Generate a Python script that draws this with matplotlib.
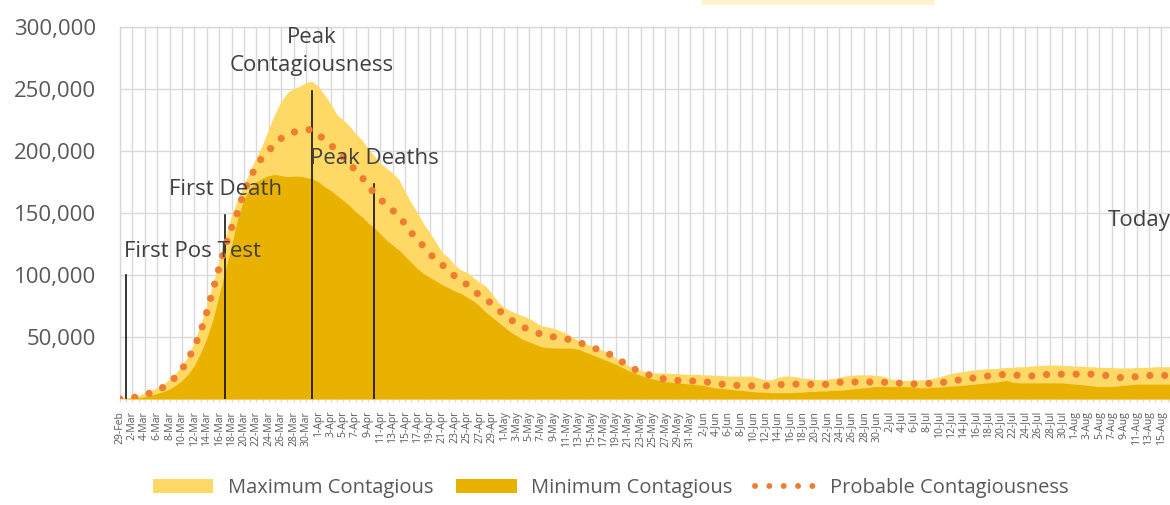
import numpy as np
import pandas as pd
import matplotlib
matplotlib.use("Agg")
import matplotlib.pyplot as plt
from matplotlib.patches import Patch, Rectangle
from matplotlib.lines import Line2D
from matplotlib.ticker import FuncFormatter

plt.rcParams['font.family'] = ['Open Sans', 'DejaVu Sans']

# ---- data (thousands of people) ----
max_contagious = [
    0.5, 1, 1.5, 3, 5, 7, 9, 12, 16, 21,
    27, 35, 46, 60, 76, 93, 112, 131, 148, 161,
    173, 184, 195, 205, 218, 230, 240, 247, 250, 252,
    255, 256, 252, 245, 238, 229, 225, 220, 214, 209,
    202, 196, 190, 186, 182, 177, 167, 158, 150, 141,
    134, 126, 118, 114, 108, 104, 102, 98, 94, 91,
    85, 78, 74, 71, 69, 67, 65, 62, 59, 58,
    57, 55, 53, 50, 47, 45, 43, 41, 39, 37,
    33, 30, 27, 25, 23, 22, 21, 21, 21, 20.5,
    20.5, 20, 20, 20, 19.5, 19.5, 19, 19, 18.5, 18.5,
    18.5, 18.5, 18.5, 17, 15.5, 15.5, 17, 18.5, 18.5, 18,
    17, 16.5, 16, 15.5, 16, 16.5, 17.5, 18.5, 19, 19.5,
    19.5, 19.5, 19, 18.5, 16.5, 15.5, 15, 15, 15.5, 15.5,
    15.5, 16.5, 17.5, 19, 20.5, 21.5, 22, 23, 23.5, 24,
    24.5, 24.5, 25, 25.5, 25.5, 26, 26, 26.5, 27, 27,
    27.5, 27.5, 27, 27, 26.5, 26.5, 26, 26, 25.5, 25.5,
    25.5, 25, 25, 25, 25.5, 25.5, 25.5, 26, 26, 26, 26,
]
min_contagious = [
    0, 0.3, 0.5, 1, 2, 3, 4.5, 6, 8, 11,
    15, 20, 27, 37, 49, 64, 84, 104, 124, 146,
    161, 170, 175, 178, 180, 181, 180, 179, 179.5, 179.5,
    178.5, 177.5, 175, 171, 168, 164, 160, 156, 151, 147,
    142, 138, 133, 128, 124, 120, 115, 110, 105, 101,
    98, 95, 92, 89.5, 87, 85, 82, 79, 75, 70,
    66, 62, 58, 54, 51, 48, 46, 44, 42, 41.5,
    41, 41, 41, 41, 40, 38, 36, 34, 32, 30,
    28, 25.5, 23, 21, 19, 17.5, 16, 15, 14, 13.5,
    13, 12.5, 12, 11.5, 11, 10, 9, 8.5, 8, 7.5,
    7, 6.5, 6, 5.5, 5.5, 5, 5, 5, 5, 5.5,
    5.5, 6, 6, 6.5, 6.5, 7, 7, 7.5, 8, 8.5,
    9, 9.5, 10, 10, 10, 10, 10, 10, 9.5, 9,
    9, 9.5, 9.5, 10, 10.5, 10.5, 11, 11.5, 12, 12.5,
    13, 13.5, 14, 15, 13.5, 13, 13, 13, 13, 13,
    13, 13, 13, 12.5, 12, 11.5, 11, 10.5, 10, 10,
    10, 10.5, 11, 11.5, 12, 12, 12, 12, 12, 12, 12,
]
probable = [
    0, 0.5, 1, 2, 3.5, 5, 7, 9.5, 13, 18,
    24, 32, 42, 54, 70, 88, 106, 123, 138, 151,
    167, 178, 188, 195, 200, 206, 210, 213, 215, 216,
    217, 217, 213, 209, 205, 199, 195, 190, 184, 179,
    172, 166, 161, 156, 152, 147, 141, 134, 128, 123,
    117, 112, 108, 104, 99, 96, 92, 87, 84, 80,
    77, 72, 68, 64, 61, 58, 56, 54, 52, 51,
    50, 49, 48.5, 47, 45.5, 44, 42, 40, 38, 36,
    33, 30, 27, 24, 22, 20, 18.5, 17, 16, 15.5,
    15, 15, 14.5, 14.5, 14, 13.5, 13, 12, 11.5, 11,
    11, 11, 10.5, 10.5, 10.5, 11, 11, 12, 12, 12,
    11.8, 11.8, 11.8, 11.8, 11.8, 12.5, 13.5, 13.7, 13.7, 13.7,
    13.7, 13.7, 13.7, 13.5, 13.5, 13.5, 12.5, 12, 12, 12.5,
    12.5, 12.5, 13, 13.5, 14, 15, 16, 16.5, 17, 18,
    18.5, 19, 19.5, 20, 19.5, 19, 18.5, 18.5, 19, 19.5,
    20, 20, 20, 20, 20, 20, 20, 20, 19.5, 19,
    18, 17.5, 17, 17.5, 18, 18.5, 19, 19, 19, 19, 19,
]
start_date = "2020-02-29"
last_label_date = "2020-08-15"
events = ["First Pos Test", "First Death", "Peak\nContagiousness", "Peak Deaths"]
event_days = ["2020-03-01", "2020-03-17", "2020-03-31", "2020-04-10"]
event_heights = [100000, 148000, 248000, 173000]
yticks = [0, 50000, 100000, 150000, 200000, 250000, 300000]

# ---- build ----
n = len(max_contagious)
dates = pd.date_range(start_date, periods=n, freq="D")
labels = [f"{d.day}-{d.strftime('%b')}" for d in dates]
x = np.arange(n)
mx = np.array(max_contagious) * 1000
mn = np.array(min_contagious) * 1000
pr = np.array(probable) * 1000

def ev_x(d):
    return (pd.Timestamp(d) - dates[0]).days

W, H = 1170, 505
fig = plt.figure(figsize=(W / 100, H / 100), dpi=100)
ax = fig.add_axes([120 / W, 106 / H, 1 - 120 / W, 372.3 / H])

grid_c = "#D9D9D9"
ax.fill_between(x, 0, mx, color="#FFD966", lw=0, zorder=2)
ax.fill_between(x, 0, mn, color="#E9B100", lw=0, zorder=3)

for lab, d, h in zip(events, event_days, event_heights):
    xi = ev_x(d)
    ax.plot([xi, xi], [0, h], color="black", lw=1.1, zorder=4)

ax.plot(x, pr, color="#ED7D31", lw=5.2, linestyle=(0, (0.001, 2.05)),
        dash_capstyle="round", zorder=5)

txt_c = "#404040"
fs_ann = 16
ax.text(0.6, 119000, events[0], ha="left", va="center", fontsize=fs_ann, color=txt_c, zorder=6)
ax.text(ev_x(event_days[1]), 169000, events[1], ha="center", va="center", fontsize=fs_ann, color=txt_c, zorder=6)
ax.text(ev_x(event_days[2]), 280000, events[2], ha="center", va="center", fontsize=fs_ann,
        color=txt_c, zorder=6, linespacing=1.45)
ax.text(ev_x(event_days[3]), 194000, events[3], ha="center", va="center", fontsize=fs_ann, color=txt_c, zorder=6)
ax.text(159.3, 144000, "Today", ha="left", va="center", fontsize=fs_ann, color=txt_c, zorder=6, clip_on=False)

ax.set_xlim(0, 169.4)
ax.set_ylim(0, 300000)
ax.set_yticks(yticks)
ax.yaxis.set_major_formatter(FuncFormatter(lambda v, p: "" if v == 0 else f"{int(v):,}"))
ax.tick_params(axis="y", length=0, pad=17, labelsize=16, labelcolor="#595959")

last = ev_x(last_label_date)
major = x[: last + 1 : 2]
minor = x[1::2]
ax.set_xticks(major)
ax.set_xticklabels([labels[i] for i in major], rotation=90, fontsize=7.5, color="#595959")
ax.set_xticks(minor, minor=True)
ax.tick_params(axis="x", which="both", length=2.5, width=1, color=grid_c, pad=6)

ax.grid(True, which="major", color=grid_c, lw=1.0, zorder=0)
ax.set_axisbelow(True)
for s in ["right", "bottom"]:
    ax.spines[s].set_visible(False)
for s in ["left", "top"]:
    ax.spines[s].set_color(grid_c)
    ax.spines[s].set_linewidth(1.0)

handles = [
    Patch(facecolor="#FFD966", edgecolor="none"),
    Patch(facecolor="#E9B100", edgecolor="none"),
    Line2D([0], [0], color="#ED7D31", lw=4.3, linestyle=(0, (0.001, 2.4)), dash_capstyle="round"),
]
leg = fig.legend(handles, ["Maximum Contagious", "Minimum Contagious", "Probable Contagiousness"],
                 loc="center", bbox_to_anchor=(0.522, 0.034), ncol=3, frameon=False,
                 fontsize=14.5, handlelength=3.0, handletextpad=0.7, columnspacing=1.15)
for t in leg.get_texts():
    t.set_color("#595959")

fig.add_artist(Rectangle((702 / W, 1 - 5 / H), 233 / W, 5 / H, transform=fig.transFigure,
                         facecolor="#FFF2CC", edgecolor="none"))

fig.savefig("out.png", dpi=100)
